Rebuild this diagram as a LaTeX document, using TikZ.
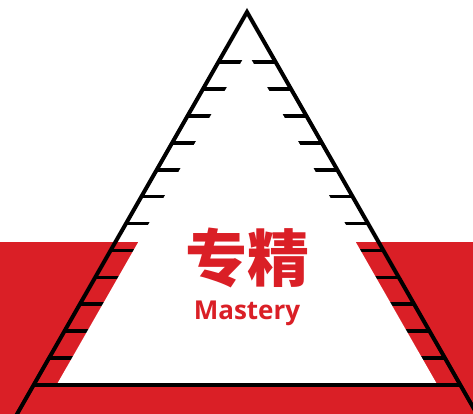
\documentclass[tikz,border=0pt]{standalone}
\usepackage{fontspec}
\newfontfamily\cjk{Noto Sans CJK SC}
\newfontfamily\latinbold{Open Sans}
\definecolor{brandred}{RGB}{218,31,38}
\begin{document}
\begin{tikzpicture}[x=1pt,y=-1pt,
  outline/.style={line width=4pt, line join=miter},
  tickline/.style={line width=3.7pt},
  baseline/.style={line width=3.2pt},
  label/.style={text=brandred, inner sep=0pt}]
\useasboundingbox (0,0) rectangle (473,414);
\fill[white] (0,0) rectangle (473,414);
\fill[brandred] (0,242) rectangle (473,414);
% ticks
\foreach \k in {0,...,12}{
  \pgfmathsetmacro\yy{62+\k*26.92}
  \pgfmathsetmacro\dx{0.572*(\yy-12)}
  \draw[tickline] (247-\dx,\yy) -- ++(28,0);
  \draw[tickline] (247+\dx,\yy) -- ++(-28,0);
}
% inner white triangle
\fill[white] (247,52) -- (247-0.572*333,385) -- (247+0.572*333,385) -- cycle;
% base line
\draw[baseline] (247-0.572*373,385) -- (247+0.572*373,385);
% outer triangle sides
\draw[outline] (247-0.572*412,424) -- (247,12) -- (247+0.572*412,424);
% texts
\node[label, font=\cjk\bfseries\fontsize{62}{62}\selectfont] (zh) at (247,258) {专精};
\node[label, font=\latinbold\bfseries\fontsize{26}{26}\selectfont, anchor=base] (en) at (247,319) {Mastery};
\end{tikzpicture}
\end{document}
